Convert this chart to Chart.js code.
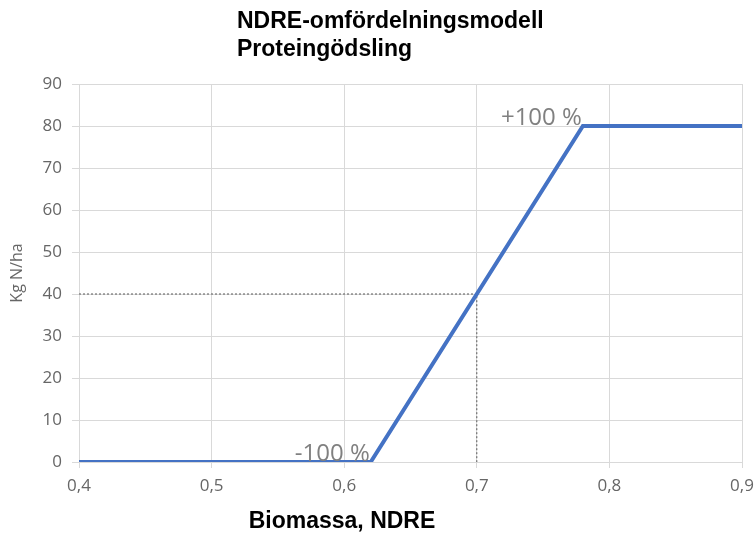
<!DOCTYPE html>
<html>
<head>
<meta charset="utf-8">
<script src="https://cdn.jsdelivr.net/npm/chart.js@4/dist/chart.umd.min.js"></script>
<style>
  html, body { margin: 0; padding: 0; background: #fff; }
  #wrap { width: 756px; height: 535px; }
</style>
</head>
<body>
<div id="wrap"><canvas id="ndreChart" width="756" height="535"></canvas></div>
<script>
// Data
const titleLines = ['NDRE-omfördelningsmodell', 'Proteingödsling'];
const xTitle = 'Biomassa, NDRE';
const yTitle = 'Kg N/ha';

const modelX = [0.4, 0.62, 0.78, 0.9];
const modelY = [0, 0, 80, 80];

const guideX = [0.4, 0.7, 0.7];
const guideY = [40, 40, 0];

const labelNames = ['-100 %', '+100 %'];
const labelX = [0.62, 0.78];
const labelY = [0, 80];

const toPoints = (xs, ys) => xs.map((x, i) => ({ x: x, y: ys[i] }));

// Title, x-axis title and the two point notes
const textPlugin = {
    id: 'textPlugin',
    afterDraw(chart) {
        const ctx = chart.ctx;
        const xs = chart.scales.x, ys = chart.scales.y;
        ctx.save();
        ctx.fillStyle = '#000';
        ctx.font = 'bold 23px "Liberation Sans", Arial, sans-serif';
        ctx.textAlign = 'left';
        ctx.textBaseline = 'middle';
        ctx.fillText(titleLines[0], 237, 22);
        ctx.fillText(titleLines[1], 237, 50);

        ctx.textAlign = 'center';
        ctx.fillText(xTitle, 342, 522);

        ctx.fillStyle = '#808080';
        ctx.font = '24px "Open Sans", sans-serif';
        ctx.textAlign = 'right';
        ctx.textBaseline = 'bottom';
        for (let i = 0; i < labelNames.length; i++) {
            const px = xs.getPixelForValue(labelX[i]);
            const py = ys.getPixelForValue(labelY[i]);
            ctx.fillText(labelNames[i], px - 1, py + 4);
        }
        ctx.restore();
    }
};

const tickFont = { family: '"Open Sans", sans-serif', size: 17 };
const commaFmt = v => v.toFixed(1).replace('.', ',');

new Chart(document.getElementById('ndreChart'), {
    type: 'scatter',
    data: {
        datasets: [{
            data: toPoints(modelX, modelY),
            showLine: true,
            borderColor: '#4472c4',
            borderWidth: 4,
            pointRadius: 0,
            order: 1
        }, {
            data: toPoints(guideX, guideY),
            showLine: true,
            borderColor: '#595959',
            borderWidth: 1,
            borderDash: [2, 2],
            pointRadius: 0,
            order: 2
        }]
    },
    options: {
        responsive: false,
        animation: false,
        layout: { padding: { top: 84, right: 14, left: 0, bottom: 0 } },
        plugins: {
            legend: { display: false },
            tooltip: { enabled: false }
        },
        scales: {
            x: {
                type: 'linear',
                min: 0.4,
                max: 0.9,
                ticks: {
                    stepSize: 0.1,
                    color: '#666666',
                    font: tickFont,
                    padding: 8,
                    maxRotation: 0,
                    callback: v => commaFmt(v)
                },
                grid: { color: '#d9d9d9', tickLength: 6 },
                border: { color: '#d9d9d9' },
                afterFit: s => {
                    s.height = 73;
                    s.paddingRight = 0;
                    s.paddingLeft = 0;
                }
            },
            y: {
                min: 0,
                max: 90,
                ticks: {
                    stepSize: 10,
                    color: '#666666',
                    font: tickFont,
                    padding: 10
                },
                grid: { color: '#d9d9d9', tickLength: 7 },
                border: { color: '#d9d9d9' },
                title: {
                    display: true,
                    text: yTitle,
                    color: '#666666',
                    font: { family: '"Open Sans", sans-serif', size: 16 },
                    padding: { top: 8, bottom: 0 }
                },
                afterFit: s => {
                    s.width = 79;
                    s.paddingTop = 0;
                    s.paddingBottom = 0;
                }
            }
        }
    },
    plugins: [textPlugin]
});
</script>
</body>
</html>
